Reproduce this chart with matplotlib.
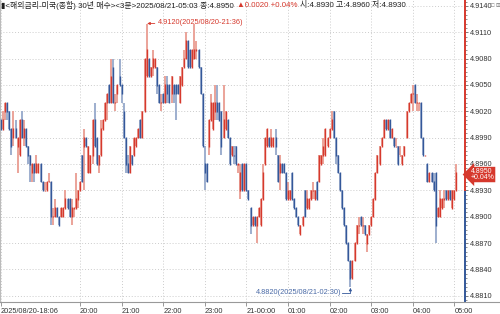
import matplotlib
matplotlib.use("Agg")
import matplotlib.pyplot as plt
import matplotlib.transforms as mtransforms
from matplotlib.lines import Line2D
from matplotlib.ticker import MultipleLocator, FixedLocator
import numpy as np
import pandas as pd

plt.rcParams['font.family'] = ['Liberation Sans', 'Noto Sans CJK KR', 'DejaVu Sans']

TITLE = "해외금리-미국(종합) 30년 매수"
PERIOD = "3분"
START = "2025-08-20 18:06"
prev_close = 4.893

# 3-minute bars, 18:06 -> 05:03
opens = [4.901,4.900,4.902,4.903,4.902,4.900,4.899,4.900,4.898,4.897,4.901,4.899,4.900,4.898,4.897,4.895,4.896,4.895,4.895,4.896,
         4.894,4.893,4.893,4.894,4.894,4.890,4.890,4.891,4.890,4.890,4.890,4.891,4.892,4.892,4.890,4.891,4.891,4.892,4.893,4.897,
         4.898,4.899,4.895,4.895,4.897,4.901,4.899,4.896,4.897,4.900,4.901,4.903,4.905,4.903,4.907,4.903,4.904,4.906,4.905,4.902,
         4.899,4.896,4.895,4.897,4.897,4.898,4.899,4.901,4.899,4.902,4.906,4.908,4.906,4.907,4.907,4.907,4.905,4.903,4.904,4.903,
         4.905,4.905,4.904,4.905,4.905,4.905,4.903,4.905,4.907,4.908,4.910,4.909,4.907,4.908,4.909,4.909,4.907,4.904,4.896,4.896,
         4.898,4.901,4.900,4.902,4.903,4.903,4.902,4.899,4.900,4.901,4.899,4.897,4.897,4.898,4.896,4.893,4.896,4.893,4.896,4.893,
         4.891,4.889,4.890,4.889,4.890,4.889,4.892,4.896,4.898,4.899,4.898,4.898,4.899,4.897,4.895,4.896,4.896,4.895,4.892,4.892,
         4.895,4.892,4.891,4.890,4.888,4.889,4.893,4.891,4.891,4.892,4.893,4.892,4.894,4.894,4.896,4.897,4.897,4.898,4.899,4.900,
         4.902,4.899,4.897,4.895,4.893,4.891,4.889,4.887,4.885,4.883,4.885,4.887,4.889,4.890,4.889,4.889,4.887,4.888,4.889,4.890,
         4.892,4.895,4.896,4.898,4.899,4.901,4.900,4.901,4.899,4.899,4.898,4.898,4.897,4.896,4.897,4.899,4.902,4.903,4.904,4.905,
         4.903,4.903,4.903,4.899,4.897,4.896,4.894,4.895,4.894,4.895,4.890,4.890,4.891,4.892,4.893,4.892,4.893,4.891,4.892,4.893]
highs = [4.901,4.902,4.903,4.903,4.902,4.900,4.902,4.901,4.899,4.901,4.902,4.901,4.900,4.898,4.897,4.896,4.896,4.897,4.896,4.896,
         4.894,4.894,4.894,4.895,4.894,4.891,4.892,4.891,4.890,4.891,4.891,4.893,4.892,4.892,4.892,4.891,4.895,4.893,4.894,4.897,
         4.900,4.899,4.898,4.897,4.901,4.903,4.899,4.897,4.901,4.901,4.903,4.904,4.905,4.908,4.908,4.904,4.905,4.908,4.905,4.903,
         4.899,4.897,4.898,4.897,4.899,4.899,4.900,4.901,4.902,4.908,4.912,4.908,4.907,4.909,4.908,4.907,4.905,4.904,4.904,4.906,
         4.906,4.905,4.906,4.905,4.905,4.905,4.906,4.907,4.909,4.911,4.910,4.909,4.909,4.912,4.910,4.909,4.907,4.904,4.898,4.896,
         4.901,4.904,4.903,4.905,4.905,4.903,4.902,4.905,4.902,4.901,4.899,4.898,4.898,4.898,4.896,4.896,4.896,4.896,4.896,4.893,
         4.891,4.890,4.890,4.890,4.891,4.892,4.896,4.899,4.900,4.899,4.900,4.899,4.900,4.897,4.897,4.896,4.896,4.895,4.894,4.893,
         4.895,4.892,4.891,4.890,4.889,4.890,4.893,4.893,4.892,4.893,4.894,4.893,4.894,4.897,4.897,4.899,4.900,4.899,4.900,4.902,
         4.902,4.899,4.897,4.895,4.893,4.891,4.889,4.887,4.885,4.885,4.887,4.889,4.890,4.890,4.890,4.889,4.888,4.889,4.890,4.892,
         4.895,4.897,4.898,4.899,4.901,4.901,4.901,4.901,4.900,4.899,4.899,4.898,4.898,4.897,4.898,4.902,4.903,4.904,4.905,4.905,
         4.904,4.903,4.903,4.899,4.897,4.896,4.895,4.895,4.895,4.895,4.891,4.893,4.892,4.893,4.893,4.893,4.893,4.893,4.893,4.896]
lows = [4.900,4.900,4.901,4.901,4.900,4.897,4.898,4.899,4.895,4.897,4.899,4.898,4.898,4.896,4.894,4.894,4.894,4.895,4.895,4.894,
        4.893,4.893,4.893,4.894,4.889,4.889,4.890,4.890,4.889,4.890,4.890,4.891,4.891,4.890,4.889,4.890,4.891,4.891,4.893,4.894,
        4.893,4.898,4.895,4.895,4.896,4.898,4.896,4.895,4.897,4.900,4.901,4.901,4.903,4.903,4.903,4.902,4.903,4.905,4.903,4.899,
        4.895,4.895,4.895,4.896,4.897,4.898,4.899,4.899,4.899,4.902,4.906,4.906,4.906,4.906,4.907,4.904,4.903,4.902,4.903,4.903,
        4.903,4.903,4.903,4.903,4.901,4.904,4.903,4.905,4.907,4.908,4.907,4.907,4.907,4.908,4.908,4.907,4.904,4.898,4.893,4.894,
        4.897,4.901,4.900,4.901,4.901,4.901,4.897,4.899,4.900,4.899,4.896,4.897,4.896,4.896,4.895,4.892,4.893,4.893,4.893,4.892,
        4.888,4.889,4.889,4.887,4.890,4.889,4.892,4.896,4.898,4.898,4.898,4.898,4.897,4.894,4.893,4.895,4.895,4.892,4.892,4.892,
        4.892,4.891,4.890,4.889,4.888,4.889,4.890,4.891,4.891,4.892,4.892,4.892,4.892,4.894,4.896,4.896,4.897,4.898,4.899,4.900,
        4.899,4.896,4.895,4.893,4.891,4.889,4.887,4.885,4.882,4.883,4.885,4.887,4.888,4.889,4.888,4.888,4.886,4.888,4.889,4.890,
        4.892,4.895,4.896,4.898,4.899,4.900,4.900,4.899,4.899,4.898,4.898,4.896,4.897,4.896,4.897,4.899,4.902,4.903,4.902,4.903,
        4.902,4.902,4.899,4.897,4.897,4.894,4.894,4.894,4.893,4.887,4.890,4.890,4.891,4.891,4.892,4.892,4.892,4.891,4.892,4.893]
closes = [4.900,4.901,4.903,4.902,4.900,4.898,4.900,4.899,4.899,4.901,4.899,4.900,4.898,4.897,4.896,4.896,4.895,4.896,4.896,4.894,
          4.893,4.893,4.894,4.894,4.890,4.890,4.891,4.890,4.889,4.891,4.891,4.892,4.891,4.890,4.891,4.891,4.892,4.893,4.894,4.894,
          4.899,4.898,4.898,4.897,4.901,4.898,4.896,4.897,4.900,4.901,4.903,4.904,4.903,4.906,4.903,4.903,4.905,4.905,4.904,4.899,
          4.896,4.895,4.898,4.896,4.899,4.899,4.900,4.899,4.902,4.908,4.909,4.906,4.907,4.908,4.908,4.905,4.903,4.903,4.903,4.905,
          4.904,4.903,4.906,4.904,4.904,4.904,4.906,4.907,4.908,4.910,4.907,4.907,4.909,4.909,4.909,4.907,4.904,4.898,4.895,4.894,
          4.901,4.903,4.903,4.903,4.902,4.901,4.898,4.901,4.902,4.899,4.896,4.898,4.897,4.896,4.896,4.895,4.893,4.896,4.893,4.892,
          4.889,4.890,4.889,4.890,4.891,4.892,4.895,4.899,4.900,4.898,4.899,4.899,4.898,4.894,4.896,4.895,4.895,4.892,4.893,4.893,
          4.892,4.891,4.890,4.889,4.889,4.890,4.890,4.892,4.892,4.893,4.893,4.893,4.892,4.897,4.897,4.898,4.900,4.899,4.900,4.901,
          4.899,4.897,4.895,4.893,4.891,4.889,4.887,4.885,4.883,4.885,4.887,4.889,4.889,4.889,4.889,4.888,4.888,4.889,4.890,4.892,
          4.895,4.897,4.898,4.899,4.901,4.900,4.901,4.899,4.900,4.898,4.898,4.896,4.897,4.897,4.898,4.902,4.903,4.904,4.904,4.903,
          4.903,4.903,4.899,4.897,4.897,4.894,4.895,4.894,4.893,4.889,4.891,4.892,4.892,4.892,4.892,4.893,4.892,4.893,4.893,4.895]

y_ticks = [4.8810, 4.8840, 4.8870, 4.8900, 4.8930, 4.8960, 4.8990, 4.9020, 4.9050, 4.9080, 4.9110, 4.9140]

RED, RED_PALE = '#d6392d', '#eba59b'
BLUE, BLUE_PALE = '#34589a', '#9fb0cf'

o = np.array(opens); h = np.array(highs); l = np.array(lows); c = np.array(closes)
n = len(c)
x = np.arange(n)
times = pd.date_range(START, periods=n, freq='3min')

prev = np.concatenate([[c[0]], c[:-1]])
up = (c > o) | ((c == o) & (c >= prev))

fig = plt.figure(figsize=(5.0, 3.14), dpi=100)
ax = fig.add_axes([0.0, 12 / 314, 465 / 500, 302 / 314])

ax.vlines(x, l, h, colors=np.where(up, RED_PALE, BLUE_PALE), lw=1.45, zorder=2)
body_lo = np.minimum(o, c) - 0.00008
body_hi = np.maximum(o, c) + 0.00008
ax.vlines(x, body_lo, body_hi, colors=np.where(up, RED, BLUE), lw=1.0, zorder=3)

ax.set_xlim(-0.48, 223.1)
ax.set_ylim(4.88028, 4.91468)

# x ticks: first bar plus the full hours (skip the one crowding the first label)
tick_idx = [0] + [i for i in range(n) if times[i].minute == 0 and i > 30]
tick_lab = []
for i in tick_idx:
    t = times[i]
    if i == 0:
        tick_lab.append(t.strftime('%Y/%m/%d-%H:%M'))
    elif t.hour == 0:
        tick_lab.append(t.strftime('%d-%H:%M'))
    else:
        tick_lab.append(t.strftime('%H:%M'))
ax.set_xticks(tick_idx)
ax.set_xticklabels(tick_lab, ha='left')
ax.tick_params(axis='x', length=3, width=0.6, color='#888888', pad=1.2,
               labelsize=5.3, labelcolor='#333333')

ax.yaxis.tick_right()
ax.yaxis.set_major_locator(FixedLocator(y_ticks))
ax.yaxis.set_minor_locator(MultipleLocator(0.0005))
ax.set_yticklabels([f'{v:.4f}' for v in y_ticks])
ax.tick_params(axis='y', which='major', length=2.5, width=0.6, color='#666666', pad=1,
               labelsize=5.3, labelcolor='#333333')
ax.tick_params(axis='y', which='minor', length=1.5, width=0.5, color='#666666')

ax.grid(True, which='major', linestyle=(0, (1, 2)), color='#cccccc', lw=0.7, zorder=0)
ax.set_axisbelow(True)

for s in ['top', 'right']:
    ax.spines[s].set_visible(False)
ax.spines['left'].set_color('#bbbbbb')
ax.spines['bottom'].set_visible(False)

# bottom axis line runs the full width of the figure
fig.add_artist(Line2D([0, 1], [12 / 314, 12 / 314], transform=fig.transFigure,
                      color='#999999', lw=0.8))

# right axis line: red above previous close, blue below
tr = mtransforms.blended_transform_factory(ax.transAxes, ax.transData)
y0, y1 = ax.get_ylim()
ax.plot([1, 1], [y0, prev_close], transform=tr, color=BLUE, lw=1.4, clip_on=False, zorder=5)
ax.plot([1, 1], [prev_close, y1], transform=tr, color=RED, lw=1.4, clip_on=False, zorder=5)

# current price tag
last = c[-1]
chg = last - prev_close
pct = chg / prev_close * 100
ax.text(1.012, last - 0.0002, f'{last:.4f}\n+{pct:.2f}%', transform=tr, ha='left', va='center',
        fontsize=5, color='white', linespacing=0.95, zorder=6, clip_on=False,
        bbox=dict(boxstyle='larrow,pad=0.12', fc=RED, ec='none'))

# high / low annotations
ih = int(np.argmax(h)); il = int(np.argmin(l))
ax.annotate(f'{h[ih]:.4f}({times[ih].strftime("%Y/%m/%d-%H:%M")})',
            xy=(ih + 0.3, h[ih]), xytext=(ih + 5.3, h[ih] + 0.0001), va='center', ha='left',
            fontsize=5.3, color=RED,
            arrowprops=dict(arrowstyle='-|>', color=RED, lw=0.6, mutation_scale=4,
                            shrinkA=0, shrinkB=0))
ylo = l[il] - 0.00068
ax.text(il - 4.4, ylo, f'{l[il]:.4f}({times[il].strftime("%Y/%m/%d-%H:%M")})',
        ha='right', va='center', fontsize=5.3, color='#4a6aa6')
ax.plot([il - 4.1, il], [ylo, ylo], color=BLUE, lw=0.6)
ax.annotate('', xy=(il, l[il] - 0.0001), xytext=(il, ylo),
            arrowprops=dict(arrowstyle='-|>', color=BLUE, lw=0.6, mutation_scale=4,
                            shrinkA=0, shrinkB=0))

# header line: pieces laid out one after another
ty = 1 - 5.5 / 314
pieces = [
    (f'▮<{TITLE}><{PERIOD}>{times[-1].strftime("%Y/%m/%d-%H:%M")} 종:{last:.4f}', '#222222'),
    (f'▲{chg:.4f} +{pct:.2f}%', RED),
    (f'시:{o[-1]:.4f} 고:{h[-1]:.4f} 저:{l[-1]:.4f}', '#222222'),
]
renderer = fig.canvas.get_renderer()
px = 1.0
for txt, col in pieces:
    t = fig.text(px / 500, ty, txt, fontsize=5.7, color=col, va='center', ha='left')
    px = t.get_window_extent(renderer).x1 + 3
fig.text(493 / 500, ty, '□', fontsize=4, color='#777777', va='center', ha='center')
fig.text(498 / 500, ty, '⊠', fontsize=4, color='#777777', va='center', ha='center')

fig.savefig('out.png', dpi=100, facecolor='white')
